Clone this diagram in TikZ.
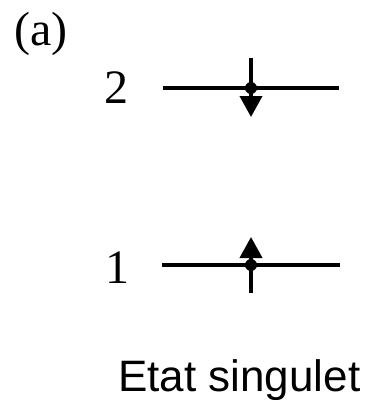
\documentclass[tikz,border=0pt]{standalone}
\usepackage{fontspec}
\setmainfont{Liberation Serif}
\newfontfamily\arialfont{Liberation Sans}
\usetikzlibrary{arrows.meta}
\begin{document}
\begin{tikzpicture}[x=1pt,y=-1pt,
  level/.style={line width=4pt},
  spin/.style={line width=4pt,-{Triangle[width=22pt,length=21pt]}},
  lbl/.style={inner sep=0pt,anchor=base west,font=\fontsize{48}{52}\selectfont},
  dotc/.style={fill=black,circle,inner sep=0pt,minimum size=12pt}]
\useasboundingbox (0,0) rectangle (382,400);
\node[lbl] (a) at (14,45) {(a)};
\node[lbl] (l2) at (104,103) {2};
\node[lbl] (l1) at (105,283) {1};
\node[inner sep=0pt,anchor=base west,font=\arialfont\fontsize{44}{50}\selectfont] (title) at (118,391) {Etat singulet};
% level 2
\coordinate (L2a) at (163,88);
\coordinate (L2b) at (339,88);
\draw[level] (L2a) -- (L2b);
\coordinate (S2top) at (251,58);
\coordinate (S2tip) at (251,117);
\draw[spin] (S2top) -- (S2tip);
\node[dotc] (d2) at (251,88) {};
% level 1
\coordinate (L1a) at (162,265);
\coordinate (L1b) at (340,265);
\draw[level] (L1a) -- (L1b);
\coordinate (S1bot) at (251,293);
\coordinate (S1tip) at (251,237);
\draw[spin] (S1bot) -- (S1tip);
\node[dotc] (d1) at (251,265) {};
\end{tikzpicture}
\end{document}
